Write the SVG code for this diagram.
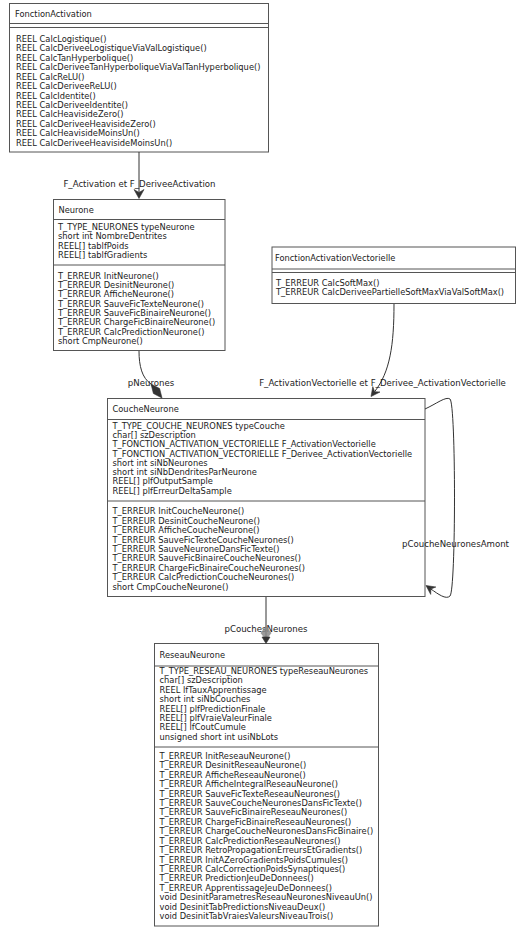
<svg xmlns="http://www.w3.org/2000/svg" width="523" height="931" viewBox="0 0 523 931">
<style>
.box{fill:#fff;stroke:#555;stroke-width:1}
.sep{stroke:#555;stroke-width:1}
.t{font-family:"DejaVu Sans",sans-serif;font-size:8.3px;fill:#222}
.lbl{font-family:"DejaVu Sans",sans-serif;font-size:8.6px;fill:#222;text-anchor:middle}
.edge{fill:none;stroke:#333;stroke-width:1}
.head{fill:#333;stroke:#333;stroke-width:0.6}
</style>
<rect width="523" height="931" fill="#fff"/>

<g id="FonctionActivation">
<rect class="box" x="9.5" y="3.5" width="259" height="148.5"/>
<line class="sep" x1="9.5" y1="23.5" x2="268.5" y2="23.5"/>
<line class="sep" x1="9.5" y1="27.5" x2="268.5" y2="27.5"/>
<text class="t" x="15" y="16.5">FonctionActivation</text>
<text class="t" x="16" y="42">
<tspan x="16">REEL CalcLogistique()</tspan>
<tspan x="16" dy="9.43">REEL CalcDeriveeLogistiqueViaValLogistique()</tspan>
<tspan x="16" dy="9.43">REEL CalcTanHyperbolique()</tspan>
<tspan x="16" dy="9.43">REEL CalcDeriveeTanHyperboliqueViaValTanHyperbolique()</tspan>
<tspan x="16" dy="9.43">REEL CalcReLU()</tspan>
<tspan x="16" dy="9.43">REEL CalcDeriveeReLU()</tspan>
<tspan x="16" dy="9.43">REEL CalcIdentite()</tspan>
<tspan x="16" dy="9.43">REEL CalcDeriveeIdentite()</tspan>
<tspan x="16" dy="9.43">REEL CalcHeavisideZero()</tspan>
<tspan x="16" dy="9.43">REEL CalcDeriveeHeavisideZero()</tspan>
<tspan x="16" dy="9.43">REEL CalcHeavisideMoinsUn()</tspan>
<tspan x="16" dy="9.43">REEL CalcDeriveeHeavisideMoinsUn()</tspan>
</text>
</g>

<g id="Neurone">
<rect class="box" x="53.5" y="199.5" width="171.5" height="151"/>
<line class="sep" x1="53.5" y1="219.5" x2="225" y2="219.5"/>
<line class="sep" x1="53.5" y1="265" x2="225" y2="265"/>
<text class="t" x="58.5" y="213">Neurone</text>
<text class="t" x="58" y="229.7">
<tspan x="58">T_TYPE_NEURONES typeNeurone</tspan>
<tspan x="58" dy="9.4">short int NombreDentrites</tspan>
<tspan x="58" dy="9.4">REEL[] tablfPoids</tspan>
<tspan x="58" dy="9.4">REEL[] tablfGradients</tspan>
</text>
<text class="t" x="58" y="278.7">
<tspan x="58">T_ERREUR InitNeurone()</tspan>
<tspan x="58" dy="9.3">T_ERREUR DesinitNeurone()</tspan>
<tspan x="58" dy="9.3">T_ERREUR AfficheNeurone()</tspan>
<tspan x="58" dy="9.3">T_ERREUR SauveFicTexteNeurone()</tspan>
<tspan x="58" dy="9.3">T_ERREUR SauveFicBinaireNeurone()</tspan>
<tspan x="58" dy="9.3">T_ERREUR ChargeFicBinaireNeurone()</tspan>
<tspan x="58" dy="9.3">T_ERREUR CalcPredictionNeurone()</tspan>
<tspan x="58" dy="9.3">short CmpNeurone()</tspan>
</text>
</g>

<g id="FonctionActivationVectorielle">
<rect class="box" x="272" y="247" width="243.5" height="56.5"/>
<line class="sep" x1="272" y1="269" x2="515.5" y2="269"/>
<line class="sep" x1="272" y1="272.5" x2="515.5" y2="272.5"/>
<text class="t" x="275" y="261.3">FonctionActivationVectorielle</text>
<text class="t" x="276" y="285.5">
<tspan x="276">T_ERREUR CalcSoftMax()</tspan>
<tspan x="276" dy="9.6">T_ERREUR CalcDeriveePartielleSoftMaxViaValSoftMax()</tspan>
</text>
</g>

<g id="CoucheNeurone">
<rect class="box" x="107.5" y="398.5" width="317.5" height="198"/>
<line class="sep" x1="107.5" y1="419.5" x2="425" y2="419.5"/>
<line class="sep" x1="107.5" y1="501" x2="425" y2="501"/>
<text class="t" x="112.5" y="412">CoucheNeurone</text>
<text class="t" x="112.5" y="428.7">
<tspan x="112.5">T_TYPE_COUCHE_NEURONES typeCouche</tspan>
<tspan x="112.5" dy="9.29">char[] szDescription</tspan>
<tspan x="112.5" dy="9.29">T_FONCTION_ACTIVATION_VECTORIELLE F_ActivationVectorielle</tspan>
<tspan x="112.5" dy="9.29">T_FONCTION_ACTIVATION_VECTORIELLE F_Derivee_ActivationVectorielle</tspan>
<tspan x="112.5" dy="9.29">short int siNbNeurones</tspan>
<tspan x="112.5" dy="9.29">short int siNbDendritesParNeurone</tspan>
<tspan x="112.5" dy="9.29">REEL[] plfOutputSample</tspan>
<tspan x="112.5" dy="9.29">REEL[] plfErreurDeltaSample</tspan>
</text>
<text class="t" x="112.5" y="514.3">
<tspan x="112.5">T_ERREUR InitCoucheNeurone()</tspan>
<tspan x="112.5" dy="9.43">T_ERREUR DesinitCoucheNeurone()</tspan>
<tspan x="112.5" dy="9.43">T_ERREUR AfficheCoucheNeurone()</tspan>
<tspan x="112.5" dy="9.43">T_ERREUR SauveFicTexteCoucheNeurones()</tspan>
<tspan x="112.5" dy="9.43">T_ERREUR SauveNeuroneDansFicTexte()</tspan>
<tspan x="112.5" dy="9.43">T_ERREUR SauveFicBinaireCoucheNeurones()</tspan>
<tspan x="112.5" dy="9.43">T_ERREUR ChargeFicBinaireCoucheNeurones()</tspan>
<tspan x="112.5" dy="9.43">T_ERREUR CalcPredictionCoucheNeurones()</tspan>
<tspan x="112.5" dy="9.43">short CmpCoucheNeurone()</tspan>
</text>
</g>

<g id="ReseauNeurone">
<rect class="box" x="154.5" y="643.5" width="224" height="282.5"/>
<line class="sep" x1="154.5" y1="666" x2="378.5" y2="666"/>
<line class="sep" x1="154.5" y1="747" x2="378.5" y2="747"/>
<text class="t" x="159.5" y="658">ReseauNeurone</text>
<text class="t" x="159.5" y="674">
<tspan x="159.5">T_TYPE_RESEAU_NEURONES typeReseauNeurones</tspan>
<tspan x="159.5" dy="9.39">char[] szDescription</tspan>
<tspan x="159.5" dy="9.39">REEL lfTauxApprentissage</tspan>
<tspan x="159.5" dy="9.39">short int siNbCouches</tspan>
<tspan x="159.5" dy="9.39">REEL[] plfPredictionFinale</tspan>
<tspan x="159.5" dy="9.39">REEL[] plfVraieValeurFinale</tspan>
<tspan x="159.5" dy="9.39">REEL[] lfCoutCumule</tspan>
<tspan x="159.5" dy="9.39">unsigned short int usiNbLots</tspan>
</text>
<text class="t" x="159.5" y="759">
<tspan x="159.5">T_ERREUR InitReseauNeurone()</tspan>
<tspan x="159.5" dy="9.41">T_ERREUR DesinitReseauNeurone()</tspan>
<tspan x="159.5" dy="9.41">T_ERREUR AfficheReseauNeurone()</tspan>
<tspan x="159.5" dy="9.41">T_ERREUR AfficheIntegralReseauNeurone()</tspan>
<tspan x="159.5" dy="9.41">T_ERREUR SauveFicTexteReseauNeurones()</tspan>
<tspan x="159.5" dy="9.41">T_ERREUR SauveCoucheNeuronesDansFicTexte()</tspan>
<tspan x="159.5" dy="9.41">T_ERREUR SauveFicBinaireReseauNeurones()</tspan>
<tspan x="159.5" dy="9.41">T_ERREUR ChargeFicBinaireReseauNeurones()</tspan>
<tspan x="159.5" dy="9.41">T_ERREUR ChargeCoucheNeuronesDansFicBinaire()</tspan>
<tspan x="159.5" dy="9.41">T_ERREUR CalcPredictionReseauNeurones()</tspan>
<tspan x="159.5" dy="9.41">T_ERREUR RetroPropagationErreursEtGradients()</tspan>
<tspan x="159.5" dy="9.41">T_ERREUR InitAZeroGradientsPoidsCumules()</tspan>
<tspan x="159.5" dy="9.41">T_ERREUR CalcCorrectionPoidsSynaptiques()</tspan>
<tspan x="159.5" dy="9.41">T_ERREUR PredictionJeuDeDonnees()</tspan>
<tspan x="159.5" dy="9.41">T_ERREUR ApprentissageJeuDeDonnees()</tspan>
<tspan x="159.5" dy="9.41">void DesinitParametresReseauNeuronesNiveauUn()</tspan>
<tspan x="159.5" dy="9.41">void DesinitTabPredictionsNiveauDeux()</tspan>
<tspan x="159.5" dy="9.41">void DesinitTabVraiesValeursNiveauTrois()</tspan>
</text>
</g>

<g id="connectors">
<!-- FonctionActivation -> Neurone -->
<path class="edge" d="M139,152 L139,192.5"/>
<text class="lbl" x="139.5" y="187">F_Activation et F_DeriveeActivation</text>
<polygon class="head" points="139,198.5 134,189.5 139,192.5 144,189.5"/>

<!-- Neurone -> CoucheNeurone -->
<path class="edge" d="M139,351 C139,366 142,378 151,384"/>
<text class="lbl" x="151" y="386">pNeurones</text>
<polygon class="head" points="151,384 159.6,388.5 162,398 153.4,393.5"/>

<!-- FonctionActivationVectorielle -> CoucheNeurone -->
<path class="edge" d="M394,304 C394,345 390,372 374.6,391.7"/>
<text class="lbl" x="382.5" y="386">F_ActivationVectorielle et F_Derivee_ActivationVectorielle</text>
<polygon class="head" points="371,396.5 380,392 374.6,391.7 372.8,386.6"/>

<!-- CoucheNeurone self loop -->
<path class="edge" d="M425,409 C436,404 446,396 450,399 C456,404 456,590 450,596 C446,600 438,594 430.9,589"/>
<text class="lbl" x="455.5" y="547">pCoucheNeuronesAmont</text>
<polygon class="head" points="426,585.5 435.9,587 430.9,589 430.7,594.4"/>

<!-- CoucheNeurone -> ReseauNeurone -->
<path class="edge" d="M266,597 L266,637"/>
<text class="lbl" x="266" y="632">pCouchesNeurones</text>
<polygon points="266,626 271.5,633 266,640 260.5,633" fill="#888" fill-opacity="0.85"/>
<polygon class="head" points="262,637 270,637 266,643.5"/>
</g>
</svg>
